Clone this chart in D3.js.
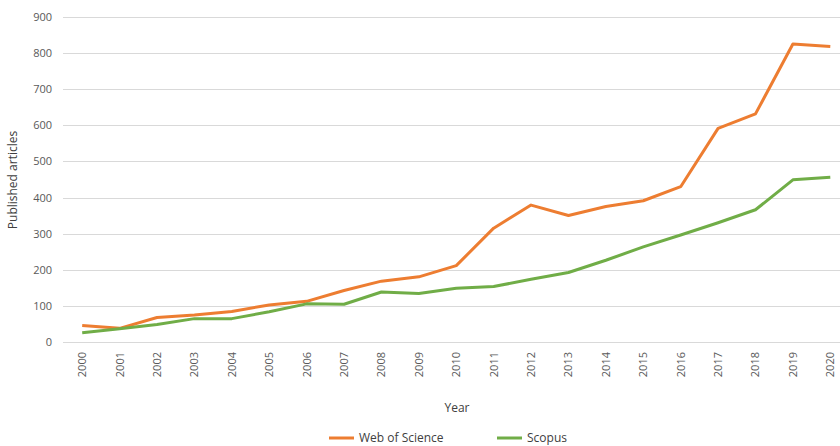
<!DOCTYPE html>
<html><head><meta charset="utf-8">
<script src="https://cdn.jsdelivr.net/npm/d3@7"></script>
<style>body{margin:0;background:#fff}svg{display:block}text{font-family:"Open Sans","Liberation Sans",sans-serif}</style>
</head><body>
<script>
const years = ["2000","2001","2002","2003","2004","2005","2006","2007","2008","2009","2010","2011","2012","2013","2014","2015","2016","2017","2018","2019","2020"];
const webOfScience = [45,37,67,74,84,102,112,142,168,180,211,315,379,350,375,391,430,592,632,826,819];
const scopus = [25,36,48,64,64,83,105,104,138,134,148,153,173,192,226,263,296,330,366,449,456];
const yTicks = [0,100,200,300,400,500,600,700,800,900];
const seriesNames = ["Web of Science","Scopus"];
const colors = ["#ED7D31","#70AD47"];

const W=840,H=446;
const svg=d3.select("body").append("svg").attr("width",W).attr("height",H);
const x=d3.scaleBand().domain(years).range([63.5,849]);
const y=d3.scaleLinear().domain([0,900]).range([341.7,17.3]);

// gridlines
svg.append("g").selectAll("line").data(yTicks).join("line")
  .attr("x1",63).attr("x2",W).attr("y1",d=>Math.round(y(d))+0.5).attr("y2",d=>Math.round(y(d))+0.5)
  .attr("stroke","#d9d9d9").attr("stroke-width",1);

// y labels
svg.append("g").selectAll("text").data(yTicks).join("text")
  .attr("x",52).attr("y",d=>y(d)+4).attr("text-anchor","end")
  .attr("font-size",11).attr("fill","#595959").text(d=>d);

// x labels
svg.append("g").selectAll("text").data(years).join("text")
  .attr("transform",d=>`translate(${x(d)+x.bandwidth()/2+4},352) rotate(-90)`)
  .attr("text-anchor","end").attr("font-size",11).attr("fill","#595959").text(d=>d);

// axis titles
svg.append("text").attr("transform","translate(17,180) rotate(-90)").attr("text-anchor","middle")
  .attr("font-size",12).attr("fill","#404040").text("Published articles");
svg.append("text").attr("x",457).attr("y",412).attr("text-anchor","middle")
  .attr("font-size",12).attr("fill","#404040").text("Year");

const line=d3.line().x((d,i)=>x(years[i])+x.bandwidth()/2).y(d=>y(d));
[webOfScience,scopus].forEach((s,k)=>{
  svg.append("path").datum(s).attr("d",line).attr("fill","none")
    .attr("stroke",colors[k]).attr("stroke-width",3).attr("stroke-linejoin","round");
});

// legend
const leg=[{x:329,tx:359},{x:497,tx:527}];
seriesNames.forEach((n,k)=>{
  svg.append("line").attr("x1",leg[k].x).attr("x2",leg[k].x+25).attr("y1",438).attr("y2",438)
    .attr("stroke",colors[k]).attr("stroke-width",3);
  svg.append("text").attr("x",leg[k].tx).attr("y",442).attr("font-size",12).attr("fill","#404040").text(n);
});
</script>
</body></html>
